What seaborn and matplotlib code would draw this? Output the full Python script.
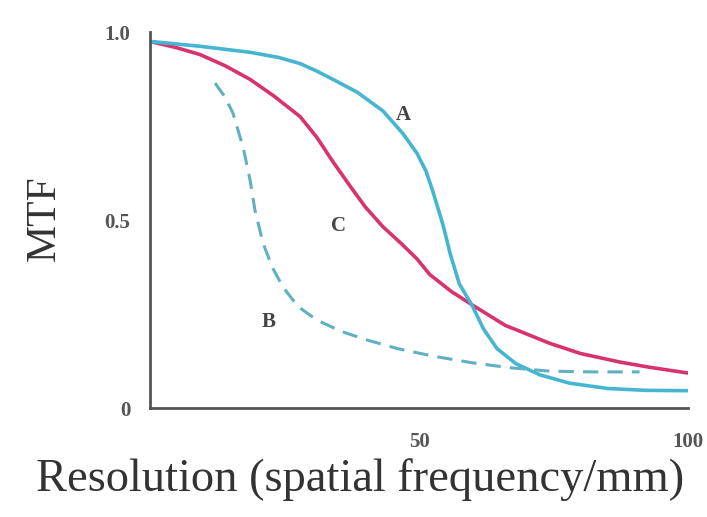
import numpy as np
import pandas as pd
import matplotlib
matplotlib.use("Agg")
import matplotlib.pyplot as plt
import seaborn as sns

# Curve A (solid cyan)
a_x = [0, 9.3, 18.6, 24, 27.9, 31, 34, 38.5, 43.3, 47, 49.6, 51.3, 52.6, 54.5, 55.8, 57.5, 59.9, 62, 64.5, 68, 72.5, 78, 85, 92, 100]
a_y = [0.975, 0.962, 0.946, 0.932, 0.916, 0.896, 0.874, 0.84, 0.79, 0.73, 0.678, 0.63, 0.575, 0.485, 0.41, 0.33, 0.272, 0.21, 0.158, 0.118, 0.088, 0.066, 0.052, 0.047, 0.046]

# Curve C (solid magenta)
c_x = [0, 5, 9.3, 14, 18.6, 23, 27.9, 31, 34, 37.2, 40, 43.3, 46.5, 49.6, 52, 56, 59.9, 66, 74.3, 80, 87.4, 93, 100]
c_y = [0.975, 0.958, 0.94, 0.91, 0.874, 0.83, 0.775, 0.72, 0.655, 0.59, 0.535, 0.482, 0.44, 0.397, 0.355, 0.31, 0.274, 0.22, 0.172, 0.145, 0.122, 0.108, 0.093]

# Curve B (dashed)
b_x = [12.1, 13.8, 15.4, 17.3, 18.6, 19.5, 21, 22.7, 24.7, 27.5, 31, 35.5, 40.3, 46, 52.6, 60, 67, 74.3, 82, 91]
b_y = [0.864, 0.83, 0.785, 0.694, 0.606, 0.527, 0.439, 0.375, 0.322, 0.27, 0.234, 0.204, 0.181, 0.158, 0.138, 0.12, 0.107, 0.098, 0.096, 0.096]

labels = ["A", "B", "C"]
label_x = [47, 22, 35]
label_y = [0.78, 0.23, 0.485]

xticks = [50, 100]
xtick_labels = ["50", "100"]
yticks = [0, 0.5, 1.0]
ytick_labels = ["0", "0.5", "1.0"]

sns.set_style("white")
plt.rcParams["font.family"] = ["Liberation Serif", "DejaVu Serif"]

fig = plt.figure(figsize=(7.07, 5.17), dpi=100)
ax = fig.add_axes([150/707, 1-408/517, (688-150)/707, (408-32)/517])

cyan = "#46b6d0"
magenta = "#d8336f"
dash_col = "#5fb0c2"

dfA = pd.DataFrame({"x": a_x, "y": a_y})
dfC = pd.DataFrame({"x": c_x, "y": c_y})
dfB = pd.DataFrame({"x": b_x, "y": b_y})

sns.lineplot(data=dfC, x="x", y="y", ax=ax, color=magenta, lw=2.6, sort=False)
sns.lineplot(data=dfA, x="x", y="y", ax=ax, color=cyan, lw=2.6, sort=False)
sns.lineplot(data=dfB, x="x", y="y", ax=ax, color=dash_col, lw=2.2, sort=False,
             linestyle=(0, (5, 3)))

for t, x, y in zip(labels, label_x, label_y):
    ax.text(x, y, t, fontsize=15, color="#444444", ha="center", va="center",
            fontweight="bold")

ax.set_xlim(0, 100)
ax.set_ylim(0, 1.0)
ax.set_xticks(xticks)
ax.set_xticklabels(xtick_labels)
ax.set_yticks(yticks)
ax.set_yticklabels(ytick_labels)
ax.tick_params(direction="in", length=11, width=1.5, color="#555555",
               labelsize=15, labelcolor="#555555")
ax.tick_params(axis="x", pad=17)
ax.tick_params(axis="y", pad=14)
for lab in ax.get_xticklabels() + ax.get_yticklabels():
    lab.set_fontweight("bold")

for s in ["top", "right"]:
    ax.spines[s].set_visible(False)
for s in ["left", "bottom"]:
    ax.spines[s].set_color("#555555")
    ax.spines[s].set_linewidth(2)

ax.set_xlabel("Resolution (spatial frequency/mm)", fontsize=33.5, color="#333333")
ax.xaxis.set_label_coords((360-150)/538, (408-458)/376)
ax.set_ylabel("MTF", fontsize=30, color="#333333")
ax.yaxis.label.set_va("center")
ax.yaxis.set_label_coords((44-150)/538, (408-218)/376)

fig.savefig("out.png", dpi=100)
